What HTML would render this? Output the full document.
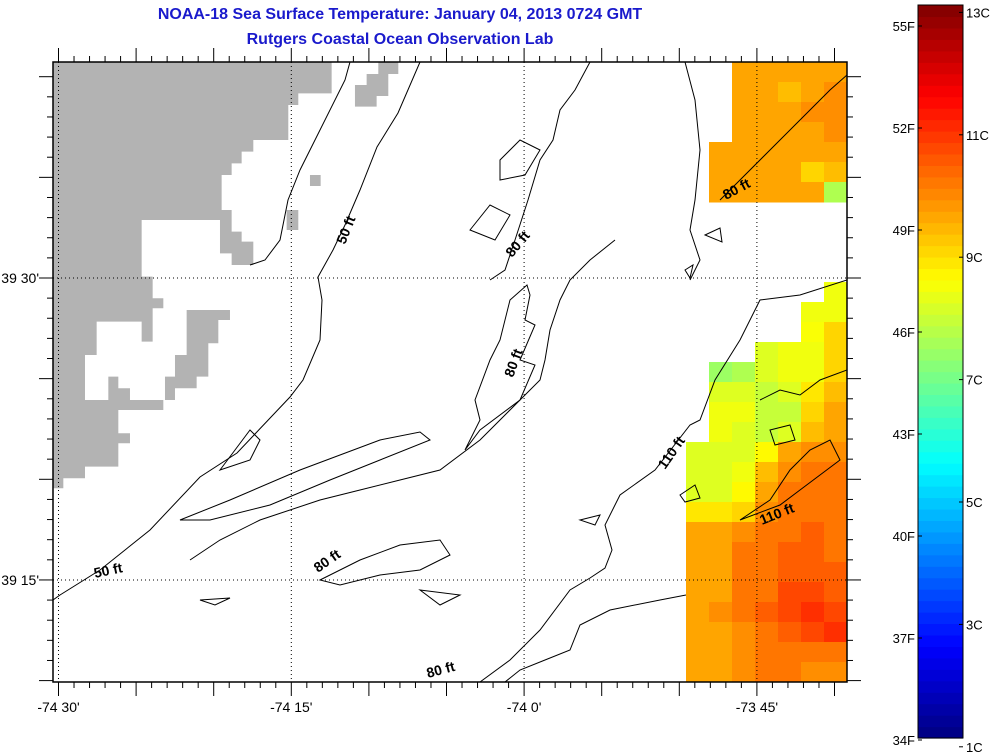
<!DOCTYPE html>
<html><head><meta charset="utf-8"><style>
html,body{margin:0;padding:0;background:#fff;}
svg{display:block;font-family:"Liberation Sans",sans-serif;}
</style></head><body>
<svg id="chart" width="992" height="754" viewBox="0 0 992 754" xmlns="http://www.w3.org/2000/svg">
<text x="400" y="19" text-anchor="middle" font-size="16" font-weight="bold" fill="#1a1acc">NOAA-18 Sea Surface Temperature:  January 04, 2013 0724 GMT</text>
<text x="400" y="44" text-anchor="middle" font-size="16" font-weight="bold" fill="#1a1acc">Rutgers Coastal Ocean Observation Lab</text>
<defs><clipPath id="plotclip"><rect x="53" y="62" width="794" height="620"/></clipPath></defs>
<g id="sst" clip-path="url(#plotclip)"></g>
<g clip-path="url(#plotclip)">
<g fill="#b3b3b3" transform="translate(50,60) scale(0.3333)">
<path d="M0 0 L845 0 L845 100 L745 100 L745 135 L715 135 L715 240 L610 240 L610 275 L575 275 L575 310 L545 310 L545 345 L515 345 L515 450 L545 450 L545 515 L575 515 L575 545 L610 545 L610 615 L545 615 L545 580 L510 580 L510 480 L275 480 L275 650 L308 650 L308 715 L340 715 L340 745 L308 745 L308 845 L275 845 L275 785 L140 785 L140 885 L105 885 L105 1020 L175 1020 L175 950 L205 950 L205 985 L240 985 L240 1020 L340 1020 L340 1050 L205 1050 L205 1120 L240 1120 L240 1150 L205 1150 L205 1220 L105 1220 L105 1255 L40 1255 L40 1285 L0 1285 Z"/>
<path d="M410 750 L540 750 L540 780 L505 780 L505 850 L475 850 L475 950 L440 950 L440 985 L375 985 L375 1020 L345 1020 L345 950 L375 950 L375 885 L410 885 Z"/>
<path d="M710 450 L745 450 L745 510 L710 510 Z M780 345 L812 345 L812 378 L780 378 Z"/>
<path d="M915 75 L950 75 L950 42 L985 42 L985 0 L1045 0 L1045 42 L1015 42 L1015 108 L980 108 L980 140 L915 140 Z"/>
</g>
</g>
<g clip-path="url(#plotclip)" fill="none" stroke="#000" stroke-width="1">
<path d="M420 62 L398 113 L377 147 L360 190 L345 225 L333 250 L318 277 L322 300 L320 340 L303 380 L290 397 L237 453 L200 477 L150 530 L100 570 L60 595 L53 600"/>
<path d="M350 62 L345 80 L320 130 L300 170 L288 200 L280 240 L265 260 L250 265"/>
<path d="M235 450 L250 430 L260 440 L250 460 L220 470 Z M180 520 L230 500 L300 470 L340 455 L380 440 L420 432 L430 440 L380 460 L330 480 L270 505 L210 520 Z"/>
<path d="M590 62 L575 90 L560 110 L553 140 L540 160 L528 200 L515 240 L505 270 L490 280"/>
<path d="M527 285 L530 295 L525 320 L535 325 L520 360 L535 365 L520 400 L480 430 L465 450 L480 420 L475 400 L490 360 L500 340 L510 300 Z"/>
<path d="M615 240 L590 260 L570 280 L560 300 L550 330 L545 360 L540 380 L520 400 L480 440 L440 470 L400 480 L360 490 L320 500 L260 520 L220 540 L190 560"/>
<path d="M500 160 L520 140 L540 150 L525 175 L500 180 Z M470 230 L490 205 L510 215 L495 240 Z"/>
<path d="M685 62 L695 100 L700 150 L695 200 L690 230 L700 260 L690 280"/>
<path d="M847 280 L800 295 L760 300 L740 340 L715 380 L700 420 L690 425 L655 470 L620 495 L605 525 L612 550 L605 568 L590 578 L570 590 L540 630 L510 660 L480 682"/>
<path d="M686 595 L660 600 L610 610 L580 625 L570 650 L545 660 L520 670 L505 682"/>
<path d="M320 580 L360 560 L400 545 L440 540 L450 555 L420 570 L380 575 L340 585 Z"/>
<path d="M200 600 L230 598 L215 605 Z M420 590 L460 595 L440 605 Z"/>
<path d="M720 200 L740 180 L770 150 L800 120 L830 90 L847 75"/>
<path d="M740 520 L770 500 L790 470 L810 450 L830 440 L840 460 L800 490 L780 505 Z"/>
<path d="M680 495 L695 485 L700 498 L685 502 Z M580 520 L600 515 L595 525 Z M705 235 L720 228 L722 242 Z M685 270 L693 265 L690 278 Z"/>
<path d="M760 400 L780 390 L800 395 L820 380 L847 370 M770 430 L790 425 L795 440 L775 445 Z"/>
</g>
<g font-size="14" font-weight="bold" fill="#000">
<text transform="translate(345,245) rotate(-68)">50 ft</text>
<text transform="translate(512,258) rotate(-50)">80 ft</text>
<text transform="translate(513,378) rotate(-70)">80 ft</text>
<text transform="translate(665,470) rotate(-55)">110 ft</text>
<text transform="translate(726,200) rotate(-28)">80 ft</text>
<text transform="translate(762,525) rotate(-22)">110 ft</text>
<text transform="translate(95,578) rotate(-12)">50 ft</text>
<text transform="translate(318,573) rotate(-35)">80 ft</text>
<text transform="translate(428,678) rotate(-15)">80 ft</text>
</g>
<g id="grid" stroke="#000" stroke-dasharray="1,3" stroke-width="1"></g>
<rect x="53" y="62" width="794" height="620" fill="none" stroke="#000" stroke-width="1.5"/>
<g id="axes"></g>
<g id="cbar"></g>
</svg>
<script>
const NS='http://www.w3.org/2000/svg';
const lonTickMinutes=[0,15,30,45];
const lonTickLabels=["-74 30'","-74 15'","-74 0'","-73 45'"];
const latTickMinutes=[0,15];
const latTickLabels=["39 30'","39 15'"];
const cbarF=[34,37,40,43,46,49,52,55];
const cbarFLabels=["34F","37F","40F","43F","46F","49F","52F","55F"];
const cbarC=[1,3,5,7,9,11,13];
const cbarCLabels=["1C","3C","5C","7C","9C","11C","13C"];
// SST grid rows (°F), null = no data
const sstRowStart=[0,1,2,3,4,5,6, 11,12,13,14,15,16,17,18,19,20,21,22,23,24,25,26,27,28,29,30];
const sstRows=[
[null,null,49.4,49.4,49.4,49.4,49.4],
[null,null,49.4,49.4,48.9,49.4,49.9],
[null,null,49.4,49.4,49.4,49.9,49.9],
[null,null,49.4,49.4,49.4,49.4,49.9],
[null,49.4,49.4,49.4,49.4,49.4,49.4],
[null,49.4,49.4,49.4,49.4,48.4,48.9],
[null,49.4,49.4,49.4,49.4,49.4,45.8],
[null,null,null,null,null,null,47.2],
[null,null,null,null,null,47.2,47.2],
[null,null,null,null,null,47.4,48.4],
[null,null,null,46.8,47.2,47.2,48.4],
[null,45.4,45.8,46.8,47.2,47.2,48.4],
[null,46.8,46.8,46.3,46.8,48,48.9],
[null,47.2,47.2,46.3,46.3,48.4,49.4],
[null,47.2,46.8,46.3,46.8,48.9,49.4],
[46.8,46.8,46.8,47.6,49.4,49.9,49.9],
[46.8,46.8,47.2,48.9,49.9,50.4,50.4],
[46.8,46.8,47.6,49.4,50.4,50.4,50.4],
[48,48,48.4,49.9,50.4,50.4,50.4],
[49.4,49.4,49.9,50.4,50.4,50.9,50.4],
[49.4,49.4,50.4,50.4,50.9,50.9,50.4],
[49.4,49.4,50.4,50.4,50.9,50.9,50.9],
[49.4,49.4,50.4,50.4,51.4,51.4,50.9],
[49.4,49.9,50.4,50.9,51.4,51.9,51.4],
[49.4,49.4,49.9,50.4,50.9,51.4,51.9],
[49.4,49.4,49.9,50.4,50.4,50.4,50.4],
[49.4,49.4,49.9,50.4,50.4,49.9,49.9]];
function xLon(m){return 58.5+m*15.52;}
function yLat(m){return 278+m*20.13;}
function yF(f){return 740-(f-34)*34;}
function yC(c){return yF(c*1.8+32);}
function jet(t){t=Math.max(0,Math.min(1,t));
 const r=Math.max(0,Math.min(1,1.5-Math.abs(4*t-3))),g=Math.max(0,Math.min(1,1.5-Math.abs(4*t-2))),b=Math.max(0,Math.min(1,1.5-Math.abs(4*t-1)));
 return `rgb(${Math.round(r*255)},${Math.round(g*255)},${Math.round(b*255)})`;}
const fMin=34,fMax=55.6;
function colF(f){return jet((f-fMin)/(fMax-fMin));}
function mk(tag,attrs,parent){const e=document.createElementNS(NS,tag);for(const k in attrs)e.setAttribute(k,attrs[k]);parent.appendChild(e);return e;}
const sst=document.getElementById('sst');
const cellW=23,cellH=20,x0=686,y0=62;
sstRows.forEach((row,i)=>{row.forEach((v,j)=>{if(v===null)return;
 const r=mk('rect',{x:x0+j*cellW,y:y0+sstRowStart[i]*cellH,width:cellW+0.5,height:cellH+0.5,fill:colF(v)},sst);
 
 });});
const grid=document.getElementById('grid');
lonTickMinutes.forEach(m=>{const l=mk('line',{x1:xLon(m),x2:xLon(m),y1:62,y2:682},grid);
 
 });
latTickMinutes.forEach(m=>{const l=mk('line',{x1:53,x2:847,y1:yLat(m),y2:yLat(m)},grid);
 
 });
const axes=document.getElementById('axes');
for(let m=0;m<=51;m++){const x=xLon(m);if(x>847)break;const L=m%5===0?14:6;
 const t1=mk('line',{x1:x,x2:x,y1:62,y2:62-L,stroke:'#000'},axes);
 
 
 const t2=mk('line',{x1:x,x2:x,y1:682,y2:682+L,stroke:'#000'},axes);
 
 }
for(let m=-11;m<=20;m++){const y=yLat(m);if(y<62||y>682)continue;const L=m%5===0?14:6;
 const t1=mk('line',{x1:53,x2:53-L,y1:y,y2:y,stroke:'#000'},axes);
 
 
 const t2=mk('line',{x1:847,x2:847+L,y1:y,y2:y,stroke:'#000'},axes);
 
 }
lonTickMinutes.forEach((m,i)=>{const t=mk('text',{x:xLon(m),y:712,'text-anchor':'middle','font-size':14},axes);t.textContent=lonTickLabels[i];
 
 });
latTickMinutes.forEach((m,i)=>{const t=mk('text',{x:39,y:yLat(m)+5,'text-anchor':'end','font-size':14},axes);t.textContent=latTickLabels[i];
 
 });
const cb=document.getElementById('cbar');
const nb=64,cbTop=5,cbBot=738,cbX=918,cbW=45;
for(let k=0;k<nb;k++){const h=(cbBot-cbTop)/nb;const yy=cbBot-(k+1)*h;
 const r=mk('rect',{x:cbX,y:yy,width:cbW,height:h+0.6,fill:jet((k+0.5)/nb)},cb);
 
 }
mk('rect',{x:cbX,y:cbTop,width:cbW,height:cbBot-cbTop,fill:'none',stroke:'#000'},cb);
cbarF.forEach((f,i)=>{const y=yF(f);mk('line',{x1:cbX,x2:cbX+4,y1:y,y2:y,stroke:'#000'},cb);
 const t=mk('text',{x:cbX-3,y:y+5,'text-anchor':'end','font-size':13},cb);t.textContent=cbarFLabels[i];
 
 });
cbarC.forEach((c,i)=>{const y=Math.max(cbTop,yC(c));mk('line',{x1:cbX+cbW,x2:cbX+cbW-4,y1:y,y2:y,stroke:'#000'},cb);
 const t=mk('text',{x:cbX+cbW+3,y:y+5,'font-size':13},cb);t.textContent=cbarCLabels[i];
 
 });
</script>
</body></html>
